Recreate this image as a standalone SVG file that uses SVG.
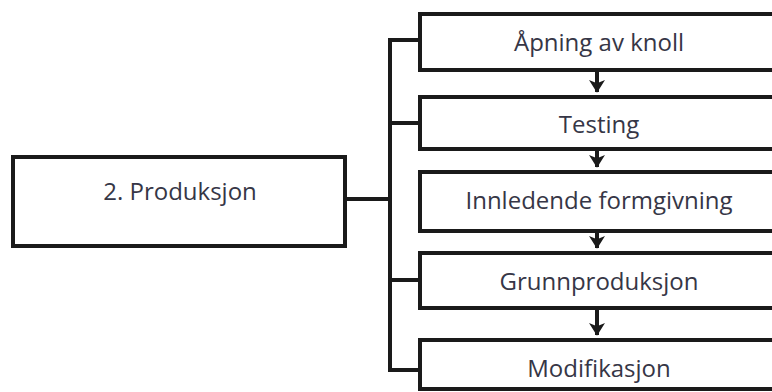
<svg xmlns="http://www.w3.org/2000/svg" width="772" height="392" viewBox="0 0 772 392">
<style>
.box{fill:#fff;stroke:#1a1a1a;stroke-width:4}
.ln{fill:none;stroke:#1a1a1a;stroke-width:4}
.lbl{font-family:"Open Sans","Noto Sans",sans-serif;font-size:24px;fill:#363646;text-anchor:middle;dominant-baseline:central}
</style>
<defs>
<marker id="ah" markerWidth="4" markerHeight="4" refX="3" refY="2" orient="auto" markerUnits="strokeWidth">
<path d="M0,0 L3.2,2 L0,4 L0.8,2 Z" fill="#1a1a1a"/>
</marker>
</defs>
<g id="connectors">
<path class="ln" d="M345,199 H390"/>
<path class="ln" d="M420,40 H390 V370 H420"/>
<path class="ln" d="M390,123 H420"/>
<path class="ln" d="M390,280 H420"/>
<path class="ln" d="M597,70 V92" marker-end="url(#ah)"/>
<path class="ln" d="M597,149 V167" marker-end="url(#ah)"/>
<path class="ln" d="M597,231 V248" marker-end="url(#ah)"/>
<path class="ln" d="M597,308 V335" marker-end="url(#ah)"/>
</g>
<g id="n0"><rect class="box" x="13" y="157" width="332" height="89"/><text class="lbl" x="180" y="190">2. Produksjon</text></g>
<g id="n1"><rect class="box" x="420" y="14" width="360" height="56"/><text class="lbl" x="599" y="41">Åpning av knoll</text></g>
<g id="n2"><rect class="box" x="420" y="97" width="360" height="52"/><text class="lbl" x="599" y="123">Testing</text></g>
<g id="n3"><rect class="box" x="420" y="172" width="360" height="59"/><text class="lbl" x="599" y="199">Innledende formgivning</text></g>
<g id="n4"><rect class="box" x="420" y="253" width="360" height="55"/><text class="lbl" x="599" y="280">Grunnproduksjon</text></g>
<g id="n5"><rect class="box" x="420" y="340" width="360" height="49"/><text class="lbl" x="599" y="367">Modifikasjon</text></g>
</svg>
